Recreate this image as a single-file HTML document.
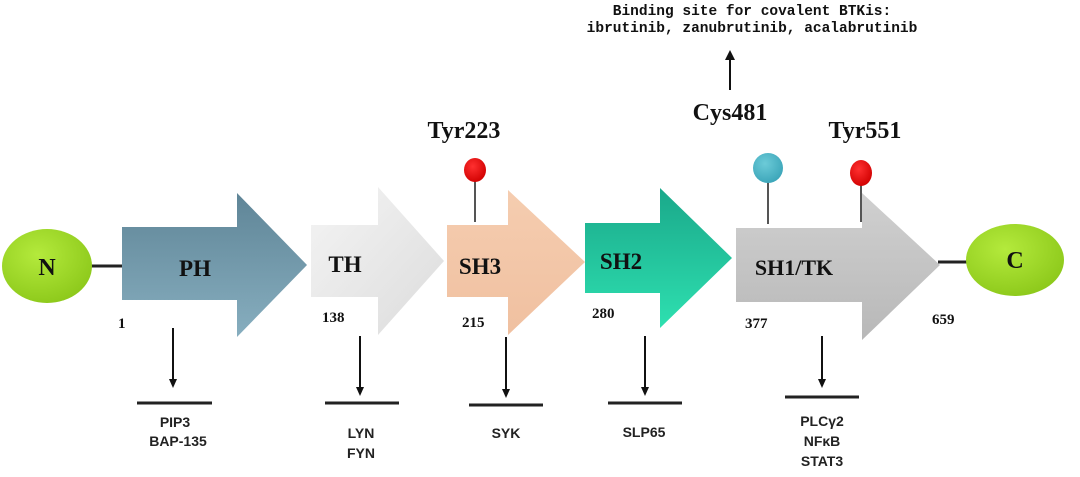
<!DOCTYPE html>
<html><head><meta charset="utf-8"><style>
html,body{margin:0;padding:0;background:#fff;}
svg{display:block;}
.s{font-family:"Liberation Serif",serif;font-weight:bold;fill:#111;}
.m{font-family:"Liberation Mono",monospace;font-weight:bold;fill:#111;}
.a{font-family:"Liberation Sans",sans-serif;font-weight:bold;fill:#222;font-size:14px;}
</style></head><body>
<svg width="1080" height="477" viewBox="0 0 1080 477" xmlns="http://www.w3.org/2000/svg">
<defs>
<linearGradient id="ph" x1="0" y1="0" x2="0" y2="1"><stop offset="0" stop-color="#5f8597"/><stop offset="1" stop-color="#87aebf"/></linearGradient>
<linearGradient id="th" x1="0" y1="0" x2="1" y2="1"><stop offset="0" stop-color="#f4f4f4"/><stop offset="1" stop-color="#dcdcdc"/></linearGradient>
<linearGradient id="sh3" x1="0" y1="0" x2="0" y2="1"><stop offset="0" stop-color="#f5cdb0"/><stop offset="1" stop-color="#f0c0a0"/></linearGradient>
<linearGradient id="sh2" x1="0" y1="0" x2="0" y2="1"><stop offset="0" stop-color="#1aa88a"/><stop offset="1" stop-color="#2ee0b0"/></linearGradient>
<linearGradient id="sh1" x1="0" y1="0" x2="0" y2="1"><stop offset="0" stop-color="#d0d0d0"/><stop offset="1" stop-color="#b8b8b8"/></linearGradient>
<radialGradient id="g" cx="0.4" cy="0.35" r="0.7"><stop offset="0" stop-color="#b4ea3c"/><stop offset="1" stop-color="#8cc81a"/></radialGradient>
<radialGradient id="r" cx="0.4" cy="0.35" r="0.7"><stop offset="0" stop-color="#ff3030"/><stop offset="1" stop-color="#d00000"/></radialGradient>
<radialGradient id="b" cx="0.4" cy="0.35" r="0.7"><stop offset="0" stop-color="#6ccbd8"/><stop offset="1" stop-color="#3aa4b8"/></radialGradient>
</defs>
<line x1="90" y1="266" x2="124" y2="266" stroke="#222" stroke-width="3"/>
<line x1="938" y1="262" x2="972" y2="262" stroke="#222" stroke-width="3"/>
<ellipse cx="47" cy="266" rx="45" ry="37" fill="url(#g)"/>
<text x="47" y="275" class="s" font-size="24" text-anchor="middle">N</text>
<ellipse cx="1015" cy="260" rx="49" ry="36" fill="url(#g)"/>
<text x="1015" y="268" class="s" font-size="24" text-anchor="middle">C</text>
<polygon points="122,227 237,227 237,193 307,265 237,337 237,300 122,300" fill="url(#ph)"/>
<polygon points="311,225 378,225 378,187 444,261 378,335 378,297 311,297" fill="url(#th)"/>
<polygon points="447,225 508,225 508,190 585,262 508,335 508,297 447,297" fill="url(#sh3)"/>
<polygon points="585,223 660,223 660,188 732,258 660,328 660,293 585,293" fill="url(#sh2)"/>
<polygon points="736,228 862,228 862,193 940,265 862,340 862,302 736,302" fill="url(#sh1)"/>
<text x="195" y="276" class="s" font-size="23" text-anchor="middle">PH</text>
<text x="345" y="272" class="s" font-size="23" text-anchor="middle">TH</text>
<text x="480" y="274" class="s" font-size="23" text-anchor="middle">SH3</text>
<text x="621" y="269" class="s" font-size="23" text-anchor="middle">SH2</text>
<text x="794" y="275" class="s" font-size="22" text-anchor="middle">SH1/TK</text>
<line x1="475" y1="178" x2="475" y2="222" stroke="#555" stroke-width="2"/>
<ellipse cx="475" cy="170" rx="11" ry="12" fill="url(#r)"/>
<line x1="768" y1="178" x2="768" y2="224" stroke="#555" stroke-width="2"/>
<circle cx="768" cy="168" r="15" fill="url(#b)"/>
<line x1="861" y1="180" x2="861" y2="222" stroke="#555" stroke-width="2"/>
<ellipse cx="861" cy="173" rx="11" ry="13" fill="url(#r)"/>
<text x="464" y="138" class="s" font-size="24" text-anchor="middle">Tyr223</text>
<text x="730" y="120" class="s" font-size="24" text-anchor="middle">Cys481</text>
<text x="865" y="138" class="s" font-size="24" text-anchor="middle">Tyr551</text>
<line x1="730" y1="90" x2="730" y2="58" stroke="#111" stroke-width="2"/>
<polygon points="725,60 735,60 730,50" fill="#111"/>
<text x="752" y="15" class="m" font-size="14.5" text-anchor="middle">Binding site for covalent BTKis:</text>
<text x="752" y="32" class="m" font-size="14.5" text-anchor="middle">ibrutinib, zanubrutinib, acalabrutinib</text>
<g class="s" font-size="15">
<text x="118" y="328">1</text>
<text x="322" y="322">138</text>
<text x="462" y="327">215</text>
<text x="592" y="318">280</text>
<text x="745" y="328">377</text>
<text x="932" y="324">659</text>
</g>
<g stroke="#111" stroke-width="2">
<line x1="173" y1="328" x2="173" y2="380"/>
<line x1="360" y1="336" x2="360" y2="388"/>
<line x1="506" y1="337" x2="506" y2="390"/>
<line x1="645" y1="336" x2="645" y2="388"/>
<line x1="822" y1="336" x2="822" y2="380"/>
</g>
<g fill="#111">
<polygon points="169,379 177,379 173,388"/>
<polygon points="356,387 364,387 360,396"/>
<polygon points="502,389 510,389 506,398"/>
<polygon points="641,387 649,387 645,396"/>
<polygon points="818,379 826,379 822,388"/>
</g>
<g stroke="#222" stroke-width="3">
<line x1="137" y1="403" x2="212" y2="403"/>
<line x1="325" y1="403" x2="399" y2="403"/>
<line x1="469" y1="405" x2="543" y2="405"/>
<line x1="608" y1="403" x2="682" y2="403"/>
<line x1="785" y1="397" x2="859" y2="397"/>
</g>
<g class="a" text-anchor="middle">
<text x="175" y="427">PIP3</text>
<text x="178" y="446">BAP-135</text>
<text x="361" y="438">LYN</text>
<text x="361" y="458">FYN</text>
<text x="506" y="438">SYK</text>
<text x="644" y="437">SLP65</text>
<text x="822" y="426">PLCγ2</text>
<text x="822" y="446">NFκB</text>
<text x="822" y="466">STAT3</text>
</g>
</svg>
</body></html>
